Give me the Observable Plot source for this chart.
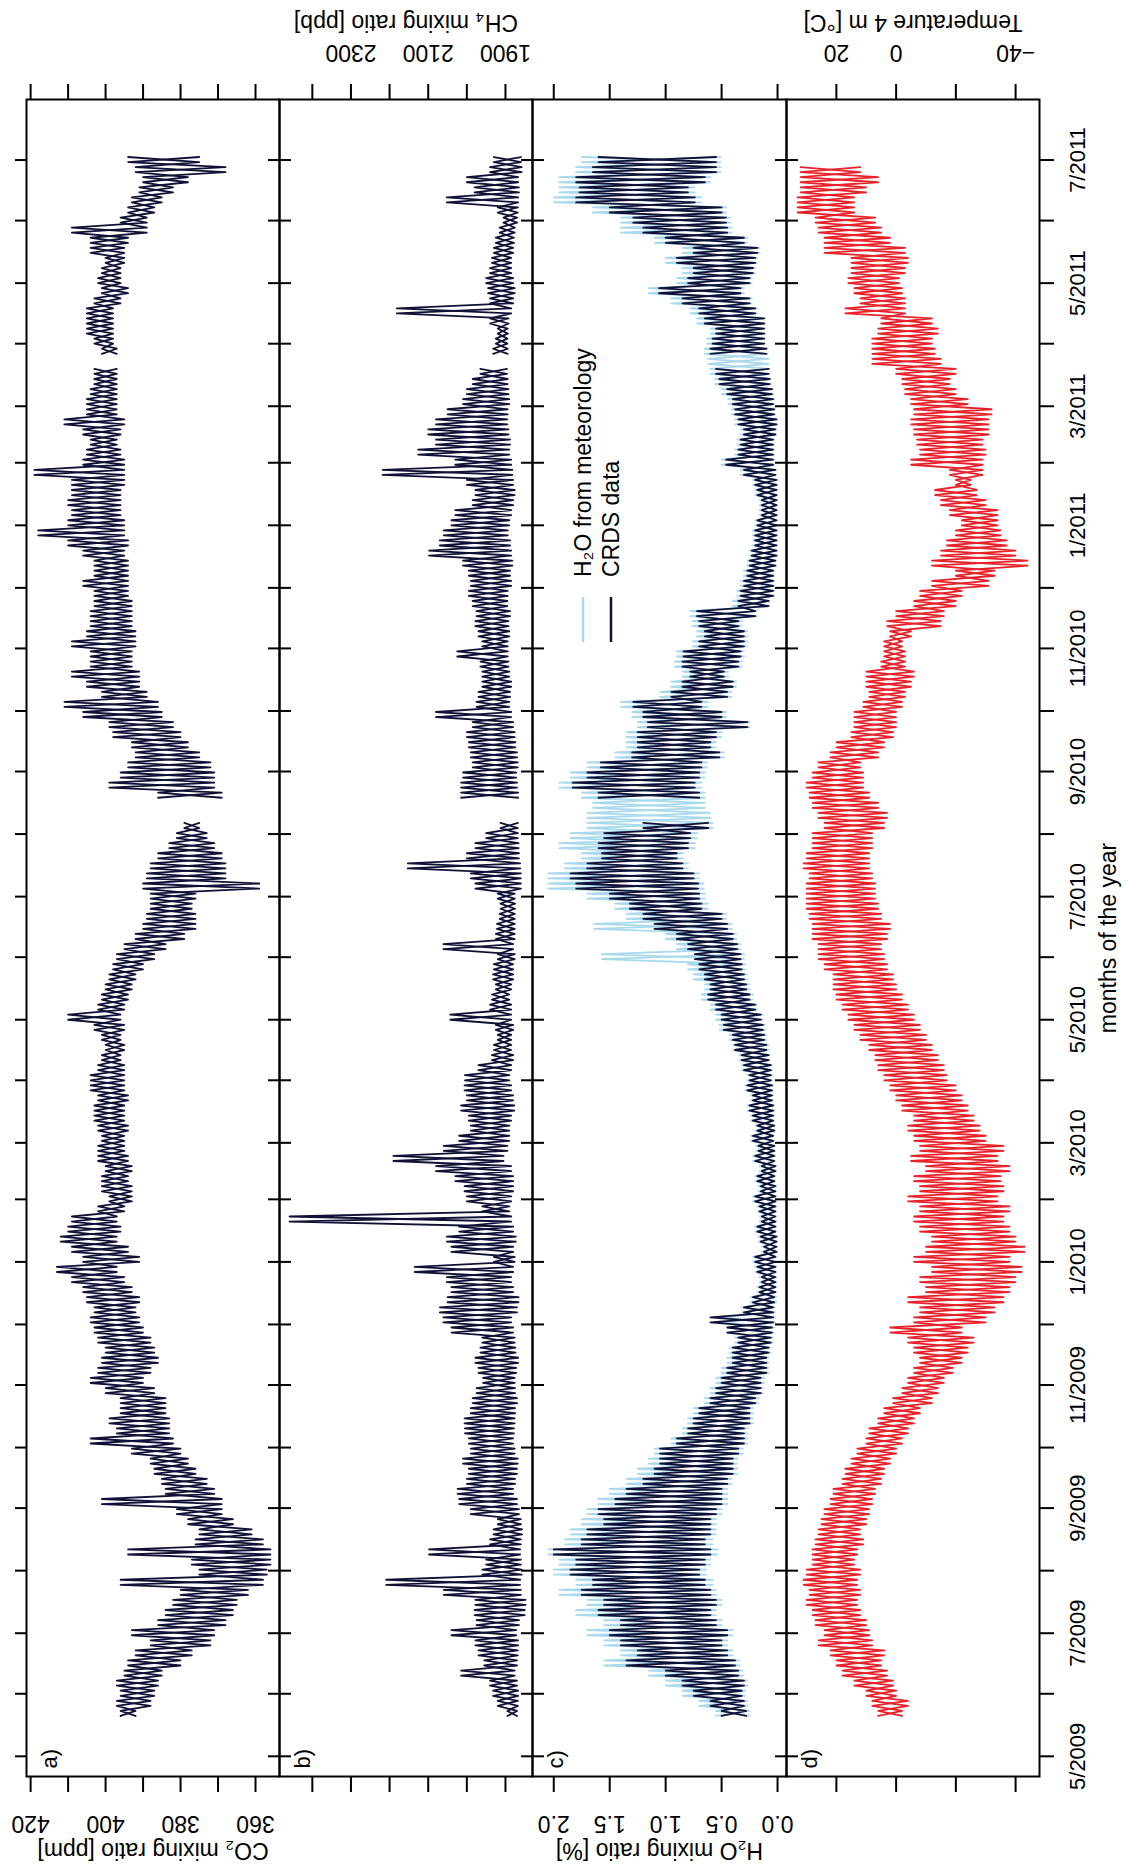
<!DOCTYPE html>
<html><head><meta charset="utf-8">
<script src="https://cdn.jsdelivr.net/npm/d3@7"></script>
<script src="https://cdn.jsdelivr.net/npm/@observablehq/plot@0.6"></script>
<style>
html,body{margin:0;padding:0;overflow:hidden;background:#fff;width:1127px;height:1867px}
#fig{position:absolute;left:0;top:0;width:1867px;height:1127px;transform-origin:0 0;transform:translate(0px,1867px) rotate(-90deg);font-family:"Liberation Sans",Arial,Helvetica,sans-serif}
#fig svg{position:absolute;left:0}
</style></head><body><div id="fig"></div>
<script>
// sampling: one lo/hi pair every 5 days starting 2009-05-21 (day 20 after 1 May 2009) to 2011-06-30
const sampleStart = "2009-05-21";
const stepDays = 5;

const co2Lo = [392,388,387,386,385,380,377,372,371,368, 366,365,362,358,357,356,356,358,361,366,
 369,369,371,373,376,378,380,382,383,383, 384,384,387,390,388,386,387,388,390,391,
 392,391,393,395,397,391,394,397,396,397, 395,393,393,394,393,394,395,395,394,395,
 395,394,395,395,395,396,395,396,395,396, 395,394,393,392,390,387,384,379,376,376,
 377,376,359,368,368,369,371,373,375,null, null,369,371,371,372,375,378,380,382,385,
 386,389,391,391,393,393,392,392,393,393, 393,394,394,394,394,395,394,395,395,396,
 396,396,395,395,395,396,397,396,395,397, 397,397,397,397,null,397,398,398,398,398,
 396,394,396,396,395,395,394,389,389,387, 385,382,378,368,375];
const co2Hi = [396,397,396,397,395,394,392,388,393,386, 384,382,380,396,375,377,394,376,375,378,
 381,401,384,385,387,388,393,404,397,399, 396,396,400,404,402,401,400,402,403,404,
 403,405,406,409,413,406,409,412,410,409, 402,399,401,401,400,402,402,401,402,403,
 403,402,404,404,402,401,400,401,403,410, 402,401,400,399,398,397,395,392,390,389,
 388,388,390,389,388,386,383,381,379,null, null,386,399,396,394,392,393,398,399,406,
 411,401,405,409,404,404,409,405,404,404, 403,403,406,403,403,406,410,418,410,409,
 410,409,409,419,406,405,404,406,411,405, 405,404,403,403,null,401,403,405,405,405,
 403,401,402,401,400,404,404,409,396,394, 393,391,390,392,394];

const ch4Lo = [1870,1868,1867,1870,1876,1870,1868,1867,1872,1865, 1850,1848,1860,1862,1858,1860,1862,1860,1857,1860,
 1865,1870,1880,1875,1870,1868,1876,1880,1878,1876, 1875,1870,1875,1876,1872,1867,1874,1876,1880,1885,
 1870,1866,1880,1885,1880,1876,1880,1873,1880,1885, 1890,1885,1880,1880,1885,1905,1895,1890,1890,1885,
 1877,1880,1885,1890,1885,1880,1885,1885,1880,1885, 1885,1890,1885,1880,1880,1876,1880,1876,1876,1876,
 1875,1876,1860,1860,1862,1865,1866,1868,1868,null, null,1867,1870,1872,1868,1870,1874,1876,1880,1885,
 1890,1888,1885,1890,1892,1894,1894,1890,1892,1888, 1895,1894,1885,1888,1882,1885,1888,1894,1890,1885,
 1880,1876,1880,1882,1885,1890,1888,1892,1895,1894, 1890,1892,1894,1896,null,1894,1895,1894,1892,1885,
 1880,1876,1880,1885,1885,1880,1878,1876,1870,1868, 1867,1865,1867,1858,1860];
const ch4Hi = [1895,1920,1932,1940,2015,1955,1970,1978,2040,1975, 1980,1978,2060,2209,1960,1950,2098,1940,1931,1920,
 1990,2020,2024,2000,1995,2010,1990,1995,2005,2006, 1990,1985,1975,1958,1970,1978,1965,1960,2040,2061,
 2070,2050,2040,2052,2135,1930,2040,2052,2020,2459, 1960,2000,2006,2030,2080,2190,2060,2020,1990,1995,
 2015,2000,2006,2005,1970,1935,1930,1920,1925,2043, 1940,1935,1925,1932,1930,1920,2061,1925,1922,1915,
 1913,1920,1978,1990,2153,2000,1978,1950,1913,null, null,2015,2015,2010,1985,1990,1995,2000,1985,2080,
 1975,1970,1960,1960,1965,2025,1960,1970,1978,1975, 1985,1995,1990,1995,2010,2098,2070,2060,2040,2030,
 1985,1978,2000,2218,2030,2126,2080,2100,2080,2050, 2010,2000,1985,1965,null,1932,1925,1920,1940,2181,
 1940,1945,1950,1940,1935,1930,1925,1915,1905,1920, 2052,1980,2000,1940,1930];

const h2oCrdsLo = [0.28,0.30,0.32,0.30,0.35,0.38,0.45,0.50,0.45,0.55, 0.60,0.55,0.60,0.65,0.70,0.65,0.60,0.65,0.60,0.60,
 0.55,0.50,0.50,0.45,0.40,0.40,0.35,0.30,0.30,0.25, 0.25,0.20,0.15,0.15,0.10,0.10,0.08,0.06,0.05,0.04,
 0.04,0.03,0.02,0.02,0.02,0.02,0.01,0.01,0.02,0.02, 0.02,0.02,0.02,0.03,0.02,0.03,0.03,0.04,0.03,0.04,
 0.04,0.05,0.05,0.06,0.06,0.08,0.10,0.12,0.13,0.15, 0.20,0.25,0.28,0.30,0.32,0.33,0.36,0.40,0.45,0.50,
 0.68,0.70,0.71,0.75,0.85,0.90,0.80,0.78,0.62,null, null,0.70,0.74,0.70,0.68,0.52,0.60,0.55,0.27,0.50,
 0.68,0.45,0.40,0.48,0.35,0.33,0.30,0.30,0.35,0.20, 0.08,0.04,0.04,0.04,0.02,0.01,0.01,0.01,0.01,0.01,
 0.01,0.01,0.01,0.02,0.04,0.04,0.04,0.02,0.01,0.03, 0.04,0.05,0.07,0.08,null,0.10,0.12,0.12,0.12,0.20,
 0.25,0.33,0.25,0.22,0.20,0.18,0.30,0.45,0.46,0.50, 0.74,0.80,0.65,0.55,0.55];
const h2oCrdsHi = [0.50,0.60,0.75,0.85,1.00,1.35,1.25,1.40,1.50,1.40, 1.60,1.55,1.75,1.65,1.85,1.80,2.00,1.75,1.70,1.55,
 1.60,1.45,1.35,1.20,1.10,1.05,1.05,0.90,0.80,0.75, 0.70,0.60,0.55,0.50,0.45,0.40,0.40,0.35,0.45,0.60,
 0.30,0.22,0.16,0.14,0.18,0.20,0.12,0.15,0.18,0.14, 0.16,0.20,0.15,0.18,0.14,0.20,0.17,0.22,0.18,0.22,
 0.25,0.22,0.27,0.25,0.30,0.32,0.38,0.40,0.48,0.50, 0.55,0.62,0.60,0.65,0.70,0.74,0.80,0.90,1.10,1.20,
 1.32,1.50,1.80,1.85,1.70,1.57,1.60,1.55,1.20,null, null,1.60,1.83,1.70,1.58,1.30,1.25,1.25,1.16,1.20,
 1.29,0.95,0.85,0.78,0.85,0.84,0.70,0.65,0.70,0.72, 0.35,0.33,0.30,0.27,0.25,0.23,0.20,0.20,0.18,0.14,
 0.14,0.18,0.20,0.30,0.46,0.35,0.33,0.30,0.35,0.38, 0.40,0.45,0.52,0.55,null,0.60,0.58,0.55,0.65,0.70,
 0.85,1.06,0.80,0.75,0.90,0.75,1.00,1.20,1.29,1.50, 1.80,1.77,1.80,1.65,1.60];

const h2oMetLo = [0.25,0.27,0.29,0.27,0.31,0.34,0.40,0.45,0.40,0.50, 0.55,0.50,0.55,0.58,0.64,0.60,0.54,0.58,0.55,0.55,
 0.50,0.45,0.45,0.41,0.36,0.36,0.31,0.27,0.27,0.22, 0.22,0.17,0.13,0.12,0.08,0.08,0.06,0.04,0.03,0.02,
 0.02,0.01,0.01,0.01,0.01,0.01,0.00,0.00,0.01,0.01, 0.01,0.01,0.01,0.02,0.01,0.02,0.02,0.03,0.02,0.03,
 0.03,0.04,0.04,0.05,0.05,0.07,0.08,0.10,0.11,0.13, 0.18,0.22,0.25,0.27,0.29,0.30,0.33,0.37,0.41,0.46,
 0.62,0.65,0.66,0.70,0.80,0.84,0.74,0.72,0.58,0.60, 0.65,0.65,0.68,0.65,0.63,0.48,0.55,0.50,0.25,0.46,
 0.62,0.41,0.37,0.44,0.32,0.30,0.27,0.27,0.32,0.18, 0.07,0.03,0.03,0.03,0.01,0.00,0.00,0.00,0.00,0.00,
 0.00,0.00,0.00,0.01,0.03,0.03,0.03,0.01,0.00,0.02, 0.03,0.04,0.06,0.07,0.08,0.09,0.11,0.11,0.11,0.18,
 0.23,0.30,0.23,0.20,0.18,0.16,0.27,0.41,0.42,0.46, 0.68,0.74,0.60,0.51,0.51];
const h2oMetHi = [0.55,0.70,0.85,1.00,1.15,1.55,1.40,1.55,1.70,1.55, 1.80,1.70,1.95,1.80,2.00,1.95,2.05,1.90,1.85,1.75,
 1.70,1.60,1.50,1.35,1.25,1.15,1.10,0.95,0.85,0.80, 0.75,0.65,0.60,0.55,0.50,0.45,0.43,0.38,0.45,0.50,
 0.32,0.24,0.18,0.16,0.20,0.22,0.14,0.17,0.20,0.16, 0.18,0.22,0.17,0.20,0.16,0.22,0.19,0.24,0.20,0.24,
 0.27,0.24,0.29,0.27,0.32,0.34,0.40,0.43,0.52,0.55, 0.60,0.68,0.65,0.75,0.80,1.57,0.90,1.00,1.64,1.35,
 1.45,1.70,2.05,2.05,1.90,1.75,1.95,1.85,1.70,1.70, 1.65,1.75,1.95,1.85,1.70,1.45,1.35,1.35,1.25,1.30,
 1.40,1.05,0.95,0.85,0.92,0.90,0.76,0.72,0.76,0.78, 0.40,0.36,0.33,0.30,0.27,0.25,0.22,0.22,0.20,0.16,
 0.16,0.20,0.22,0.33,0.50,0.38,0.36,0.33,0.38,0.41, 0.44,0.50,0.56,0.60,0.62,0.65,0.63,0.60,0.72,0.78,
 0.95,1.15,0.90,0.85,1.00,0.85,1.10,1.40,1.40,1.65, 2.00,1.95,1.95,1.80,1.75];

const tempLo = [-2,-4,0,1,3,5,4,8,9,10, 12,13,12,13,12,14,13,11,12,10,
 9,8,7,5,4,2,0,-2,-4,-6, -8,-12,-14,-16,-19,-22,-24,-26,-22,-30,
 -33,-36,-38,-40,-42,-38,-43,-40,-38,-36, -38,-34,-36,-35,-38,-34,-36,-30,-28,-26,
 -24,-22,-20,-17,-16,-14,-12,-10,-8,-6, -4,-2,0,1,3,4,5,3,2,5,
 6,7,7,8,9,9,8,8,4,3, 6,9,11,11,12,6,4,1,0,0,
 -2,-3,-5,-6,-3,-3,-2,-5,-15,-16, -20,-22,-31,-33,-44,-40,-37,-35,-34,-34,
 -30,-27,-25,-29,-29,-30,-29,-31,-31,-32, -24,-20,-18,-20,-15,-13,-12,-14,-12,-3,
 -3,-2,-1,-3,-4,-3,2,5,7,14, 14,10,6,12,null];
const tempHi = [6,8,10,14,18,20,22,26,24,27, 28,30,29,31,30,28,28,27,26,25,
 24,22,21,18,17,15,13,10,9,6, 4,1,-2,-4,-6,-8,-6,-4,2,-6,
 -8,-4,-10,-8,-12,-6,-10,-12,-8,-6, -8,-4,-8,-6,-10,-5,-8,-6,-4,-6,
 -2,0,2,4,6,7,9,12,14,16, 18,20,21,21,24,26,26,28,28,29,
 30,30,30,29,31,30,28,28,24,26, 28,29,30,28,26,22,20,15,14,14,
 11,9,10,10,5,4,4,2,3,0, -6,-8,-12,-20,-12,-15,-17,-20,-22,-18,
 -15,-13,-20,-18,-5,-8,-7,-6,-5,-6, -5,-3,-2,0,8,8,8,6,5,17,
 12,14,16,15,15,24,24,26,27,33, 33,32,32,32,null];

const co2Ticks = [360,370,380,390,400,410,420], co2Labels = [360,380,400,420];
const ch4Ticks = [1900,2000,2100,2200,2300,2400], ch4Labels = [1900,2100,2300];
const h2oTicks = [0,0.5,1,1.5,2], h2oLabels = [0,0.5,1,1.5,2];
const tempTicks = [-40,-20,0,20], tempLabels = [-40,0,20];
const legendNames = ["H\u2082O from meteorology","CRDS data"];

const colDark = "#111137", colLight = "#a9d9ec", colRed = "#e8222a";

const DAY = 864e5;
const t0 = Date.parse(sampleStart + "T00:00:00Z");
// two interleaved traces through the same lo/hi readings (lo then hi, and hi then lo)
function zig(a, b) {
  const out = [];
  a.forEach((v, i) => {
    const t = t0 + i * stepDays * DAY;
    out.push({date: new Date(t), v: a[i]});
    out.push({date: new Date(t + stepDays / 2 * DAY), v: b[i]});
  });
  return out;
}
function series(lo, hi, color) {
  return [
    Plot.line(zig(lo, hi), {x: "date", y: "v", stroke: color, strokeWidth: 1.8, clip: true}),
    Plot.line(zig(hi, lo), {x: "date", y: "v", stroke: color, strokeWidth: 1.8, clip: true})
  ];
}

const W = 1867, ML = 90, MR = 100;
const xDomain = [new Date(Date.UTC(2009,3,21)), new Date(Date.UTC(2011,6,31))];
const months = d3.utcMonth.range(new Date(Date.UTC(2009,4,1)), new Date(Date.UTC(2011,6,2)));
const monthLabel = d => d.getUTCMonth() % 2 === 0 ? `${d.getUTCMonth()+1}/${d.getUTCFullYear()}` : "";
const blank = () => "";
const fig = document.getElementById("fig");

function panel({top, h, mb = 0, domain, ticks, labels, side, fmt, title, letter, marks, timeLabels = false}) {
  const m = [
    Plot.axisX({anchor: "top", ticks: months, tickSize: 12, tickFormat: blank, label: null, strokeWidth: 2}),
    Plot.axisX({anchor: "bottom", ticks: months, tickSize: timeLabels ? 15 : 12, tickPadding: 15,
      tickFormat: timeLabels ? monthLabel : blank, label: null, strokeWidth: 2, fontSize: 22}),
    Plot.axisY({anchor: "left", ticks, tickSize: 15, tickFormat: blank, label: null, strokeWidth: 2}),
    Plot.axisY({anchor: "right", ticks, tickSize: 15, tickFormat: blank, label: null, strokeWidth: 2}),
    ...marks,
    Plot.frame({stroke: "#000", strokeWidth: 2}),
    Plot.text(labels, {y: d => d, text: fmt, frameAnchor: side, dx: side === "left" ? -47 : 47,
      rotate: -90, fontSize: 23, textAnchor: "middle", lineAnchor: "middle"}),
    Plot.text([title], {text: d => d, frameAnchor: side, dx: side === "left" ? -74 : 77,
      rotate: -90, fontSize: 23, textAnchor: "middle", lineAnchor: "middle"}),
    Plot.text([letter], {text: d => d, frameAnchor: "top-left", dx: 8, dy: 23,
      textAnchor: "start", lineAnchor: "middle", fontSize: 22})
  ];
  if (timeLabels) m.push(Plot.text(["months of the year"], {text: d => d, frameAnchor: "bottom", dy: 69, fontSize: 23, lineAnchor: "middle"}));
  const svg = Plot.plot({
    width: W, height: h + mb, marginLeft: ML, marginRight: MR, marginTop: 0, marginBottom: mb,
    x: {type: "utc", domain: xDomain},
    y: {domain},
    style: {overflow: "visible", background: "transparent", fontFamily: "'Liberation Sans', Arial, Helvetica, sans-serif", color: "#000"},
    marks: m
  });
  svg.style.top = top + "px";
  fig.appendChild(svg);
  return svg;
}

panel({top: 26, h: 253, domain: [353.6, 421.1], ticks: co2Ticks, labels: co2Labels, side: "left", fmt: d => String(d),
  title: "CO\u2082 mixing ratio [ppm]", letter: "a)",
  marks: series(co2Lo, co2Hi, colDark)});

panel({top: 279, h: 253, domain: [1830, 2485], ticks: ch4Ticks, labels: ch4Labels, side: "right", fmt: d => String(d),
  title: "CH\u2084 mixing ratio [ppb]", letter: "b)",
  marks: series(ch4Lo, ch4Hi, colDark)});

const svgC = panel({top: 532, h: 254, domain: [-0.08, 2.19], ticks: h2oTicks, labels: h2oLabels, side: "left", fmt: d => d.toFixed(1),
  title: "H\u2082O mixing ratio [%]", letter: "c)",
  marks: [...series(h2oMetLo, h2oMetHi, colLight), ...series(h2oCrdsLo, h2oCrdsHi, colDark)]});

panel({top: 786, h: 253, mb: 88, domain: [-48, 36.7], ticks: tempTicks, labels: tempLabels, side: "right",
  fmt: d => d < 0 ? "\u2212" + (-d) : String(d),
  title: "Temperature 4 m [\u00B0C]", letter: "d)", timeLabels: true,
  marks: series(tempLo, tempHi, colRed)});

// legend inside panel c
const lg = d3.select(svgC).append("g").attr("font-size", 23).attr("text-anchor", "start")
  .attr("font-family", "'Liberation Sans', Arial, sans-serif");
[[legendNames[0], colLight, 51], [legendNames[1], colDark, 79]].forEach(([name, col, y]) => {
  lg.append("line").attr("x1", 1225).attr("x2", 1270).attr("y1", y).attr("y2", y).attr("stroke", col).attr("stroke-width", 2.5);
  lg.append("text").attr("x", 1290).attr("y", y).attr("dy", "0.35em").attr("fill", "#000").attr("text-anchor", "start").text(name);
});
</script></body></html>
